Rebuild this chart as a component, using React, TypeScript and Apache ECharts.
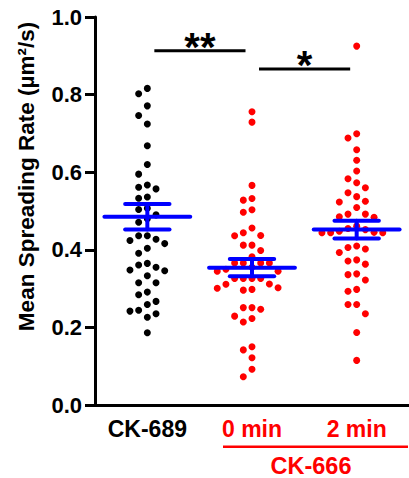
import React, { useEffect, useRef } from "react";
import * as echarts from "echarts";

const categories = ["CK-689", "0 min", "2 min"];
const groupColors = ["#000000", "#FF0000", "#FF0000"];

const ck689 = [0.816, 0.802, 0.771, 0.746, 0.724, 0.668, 0.62, 0.595, 0.567, 0.561, 0.557, 0.536, 0.533, 0.507, 0.504, 0.49, 0.48, 0.471, 0.436, 0.436, 0.427, 0.424, 0.416, 0.404, 0.391, 0.365, 0.361, 0.355, 0.348, 0.346, 0.333, 0.315, 0.315, 0.291, 0.284, 0.267, 0.259, 0.244, 0.242, 0.235, 0.226, 0.186];
const ck666min0 = [0.756, 0.729, 0.566, 0.532, 0.528, 0.503, 0.497, 0.456, 0.444, 0.437, 0.436, 0.412, 0.412, 0.398, 0.382, 0.366, 0.366, 0.366, 0.366, 0.355, 0.35, 0.345, 0.345, 0.326, 0.326, 0.326, 0.326, 0.312, 0.311, 0.302, 0.301, 0.298, 0.296, 0.251, 0.251, 0.247, 0.229, 0.223, 0.214, 0.15, 0.142, 0.122, 0.092, 0.073];
const ck666min2 = [0.925, 0.699, 0.688, 0.658, 0.631, 0.603, 0.583, 0.573, 0.56, 0.547, 0.537, 0.525, 0.523, 0.509, 0.492, 0.492, 0.485, 0.484, 0.461, 0.455, 0.452, 0.448, 0.445, 0.444, 0.444, 0.444, 0.41, 0.406, 0.402, 0.393, 0.374, 0.371, 0.363, 0.338, 0.336, 0.322, 0.298, 0.293, 0.259, 0.259, 0.235, 0.187, 0.115];

const means = [0.485, 0.354, 0.452];
const sems = [0.033, 0.022, 0.023];

const comparisonFrom = [0, 1];
const comparisonTo = [1, 2];
const comparisonY = [0.913, 0.866];
const comparisonLabels = ["**", "*"];

const yTicks = [0, 0.2, 0.4, 0.6, 0.8, 1.0];

const FONT = "'Liberation Sans', Arial, sans-serif";

function swarm(values: number[], idx: number, step: number, gap: number) {
  const sorted = [...values].sort((a, b) => b - a);
  const placed: { slot: number; v: number }[] = [];
  const out: number[][] = [];
  const order = [0, -1, 1, -2, 2, -3, 3, -4, 4, -5, 5];
  for (const v of sorted) {
    for (const slot of order) {
      const clash = placed.some((p) => p.slot === slot && Math.abs(p.v - v) < gap);
      if (!clash) {
        placed.push({ slot, v });
        out.push([idx + slot * step, v]);
        break;
      }
    }
  }
  return out;
}

export default function App() {
  const ref = useRef<HTMLDivElement>(null);
  useEffect(() => {
    if (!ref.current) return;
    const chart = echarts.init(ref.current, null, { renderer: "svg" });
    const groups = [ck689, ck666min0, ck666min2];
    const scatterSeries = groups.map((g, i) => ({
      type: "scatter",
      xAxisIndex: 1,
      yAxisIndex: 0,
      data: swarm(g, i, 0.083, 0.026),
      symbolSize: 7,
      itemStyle: { color: groupColors[i], opacity: 1 },
      silent: true,
      z: 2,
    }));

    const option: any = {
      animation: false,
      grid: { left: 95, top: 17, width: 325.5, height: 388, containLabel: false },
      xAxis: [
        {
          type: "category",
          data: categories,
          boundaryGap: true,
          axisLine: { onZero: false, lineStyle: { color: "#000", width: 3 } },
          axisTick: { alignWithLabel: true, length: 9, lineStyle: { color: "#000", width: 3 } },
          axisLabel: {
            margin: 12,
            fontFamily: FONT,
            fontWeight: "bold",
            fontSize: 23,
            color: (_v: any, i: number) => groupColors[i],
          },
          splitLine: { show: false },
        },
        {
          type: "value",
          min: -0.5,
          max: 2.5,
          show: false,
          splitLine: { show: false },
        },
      ],
      yAxis: [
        {
          type: "value",
          min: yTicks[0],
          max: yTicks[yTicks.length - 1],
          interval: 0.2,
          axisLine: { show: true, onZero: false, lineStyle: { color: "#000", width: 3 } },
          axisTick: { show: true, length: 10, lineStyle: { color: "#000", width: 3 } },
          axisLabel: {
            margin: 13,
            fontFamily: FONT,
            fontWeight: "bold",
            fontSize: 22,
            color: "#000",
            formatter: (v: number) => v.toFixed(1),
          },
          splitLine: { show: false },
        },
      ],
      series: [
        ...scatterSeries,
        {
          type: "custom",
          xAxisIndex: 1,
          yAxisIndex: 0,
          z: 5,
          silent: true,
          data: means.map((m, i) => [i, m, sems[i]]),
          renderItem: (_p: any, api: any) => {
            const i = api.value(0);
            const m = api.value(1);
            const s = api.value(2);
            const c = (x: number, y: number) => api.coord([x, y]);
            const style = { stroke: "#0000FF", lineWidth: 4, lineCap: "round" };
            const mk = (x1: number, y1: number, x2: number, y2: number) => {
              const a = c(x1, y1);
              const b = c(x2, y2);
              return { type: "line", shape: { x1: a[0], y1: a[1], x2: b[0], y2: b[1] }, style };
            };
            return {
              type: "group",
              children: [
                mk(i - 0.41, m, i + 0.41, m),
                mk(i - 0.212, m + s, i + 0.212, m + s),
                mk(i - 0.212, m - s, i + 0.212, m - s),
                mk(i, m - s, i, m + s),
              ],
            };
          },
        },
        {
          type: "custom",
          xAxisIndex: 1,
          yAxisIndex: 0,
          z: 5,
          silent: true,
          data: comparisonY.map((y, k) => [comparisonFrom[k], comparisonTo[k], y]),
          renderItem: (p: any, api: any) => {
            const f = api.value(0);
            const t = api.value(1);
            const y = api.value(2);
            const a = api.coord([f + 0.067, y]);
            const b = api.coord([t - 0.062, y]);
            return {
              type: "group",
              children: [
                {
                  type: "line",
                  shape: { x1: a[0], y1: a[1], x2: b[0], y2: b[1] },
                  style: { stroke: "#000", lineWidth: 3 },
                },
                {
                  type: "text",
                  x: (a[0] + b[0]) / 2,
                  y: a[1] - 4,
                  style: {
                    text: comparisonLabels[p.dataIndex],
                    font: `bold 40px ${FONT}`,
                    fill: "#000",
                    align: "center",
                    verticalAlign: "middle",
                  },
                },
              ],
            };
          },
        },
      ],
      graphic: [
        {
          type: "text",
          x: 26,
          y: 176.5,
          rotation: Math.PI / 2,
          style: {
            text: "Mean Spreading Rate (µm²/s)",
            font: `bold 22.5px ${FONT}`,
            fill: "#000",
            align: "center",
            verticalAlign: "middle",
          },
        },
        {
          type: "line",
          shape: { x1: 223, y1: 446.7, x2: 408, y2: 446.7 },
          style: { stroke: "#FF0000", lineWidth: 2.5 },
        },
        {
          type: "text",
          x: 311,
          y: 465.7,
          style: {
            text: "CK-666",
            font: `bold 23.5px ${FONT}`,
            fill: "#FF0000",
            align: "center",
            verticalAlign: "middle",
          },
        },
      ],
    };
    chart.setOption(option);
    return () => chart.dispose();
  }, []);
  return (
    <div
      ref={ref}
      style={{ position: "absolute", left: 0, top: 0, width: 409, height: 478, overflow: "hidden", background: "#fff" }}
    />
  );
}
